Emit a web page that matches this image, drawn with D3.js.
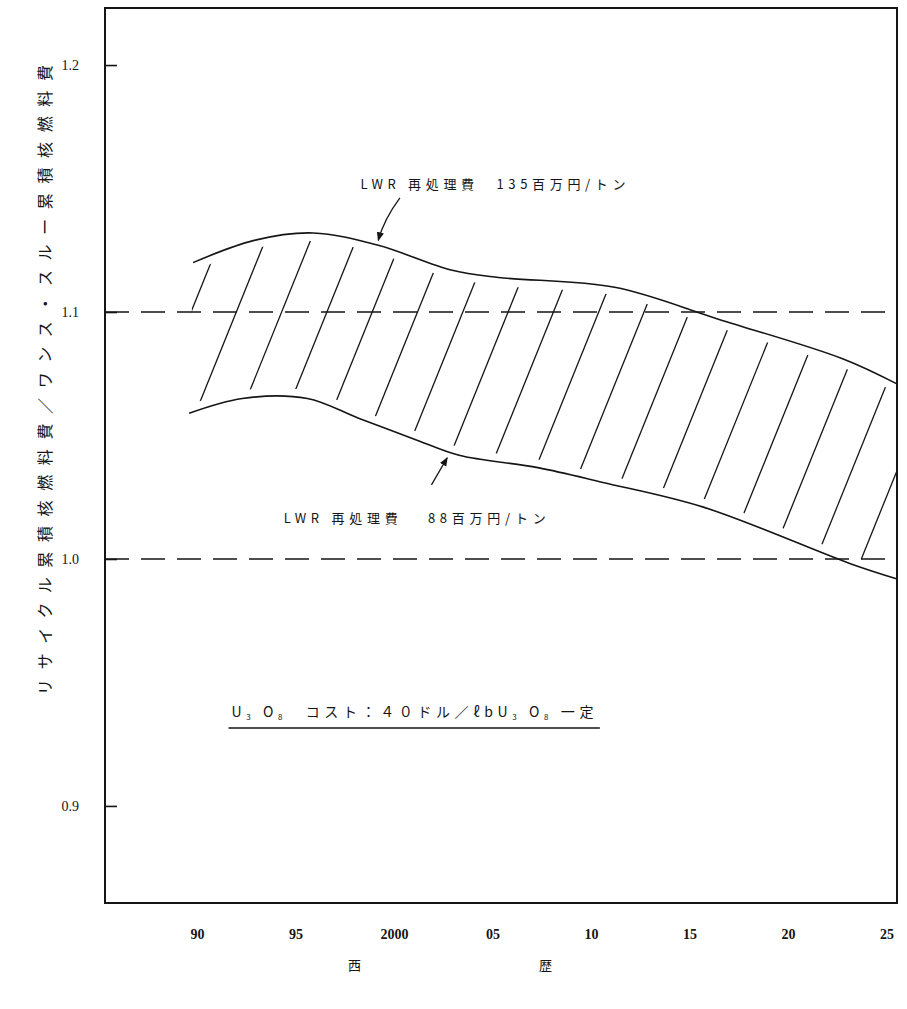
<!DOCTYPE html>
<html>
<head>
<meta charset="utf-8">
<script src="https://cdn.jsdelivr.net/npm/d3@7"></script>
<style>
body { margin: 0; background: #fff; }
text { fill: #151515; }
</style>
</head>
<body>
<svg id="chart" width="907" height="1009"></svg>
<script>
// values (ratio recycle / once-through)
const years135 = [1989.8, 1992.9, 1995.9, 1999.2, 2002.9, 2005.3, 2011.2, 2016.5, 2022.8, 2025.5];
const cost135  = [1.120, 1.129, 1.132, 1.127, 1.117, 1.114, 1.110, 1.097, 1.081, 1.071];
const years88  = [1989.6, 1992.3, 1995.6, 1998.2, 2001.2, 2003.3, 2007.3, 2010.6, 2015.7, 2023.2, 2025.5];
const cost88   = [1.059, 1.065, 1.065, 1.057, 1.048, 1.042, 1.037, 1.031, 1.021, 0.998, 0.992];
const refLevels = [1.1, 1.0];
const yTicks = [0.9, 1.0, 1.1, 1.2];
const xTicks = [1990, 1995, 2000, 2005, 2010, 2015, 2020, 2025];
const xTickLabels = ["90", "95", "2000", "05", "10", "15", "20", "25"];

const jp = "'Noto Sans CJK JP', sans-serif";
const svg = d3.select("#chart");
const mLeft = 105, mRight = 897, mTop = 8, mBottom = 903;

const x = d3.scaleLinear().domain([1985.33, 2025.53]).range([mLeft, mRight]);
const y = d3.scaleLinear().domain([0.8607, 1.2231]).range([mBottom, mTop]);

const upper = years135.map((d, i) => [d, cost135[i]]);
const lower = years88.map((d, i) => [d, cost88[i]]);

const line = d3.line()
    .x(d => x(d[0]))
    .y(d => y(d[1]))
    .curve(d3.curveCatmullRom.alpha(0.5));

// defs: plot clip, band clip
const defs = svg.append("defs");
defs.append("clipPath").attr("id", "plot")
  .append("rect")
    .attr("x", mLeft).attr("y", mTop)
    .attr("width", mRight - mLeft).attr("height", mBottom - mTop);

const bandPath = line(upper) + "L" + line(lower.slice().reverse()).slice(1) + "Z";
defs.append("clipPath").attr("id", "band")
  .append("path").attr("d", bandPath);

const plot = svg.append("g").attr("clip-path", "url(#plot)");

// hatching: parallel strokes 68 deg from horizontal, clipped to the band
const ang = 22 * Math.PI / 180, gap = 42;
const hatch = plot.append("g").attr("clip-path", "url(#band)");
hatch.selectAll("line")
  .data(d3.range(5, 27))
  .enter()
  .append("line")
    .attr("x1", k => k * gap * Math.cos(ang) + 900 * Math.sin(ang))
    .attr("y1", k => k * gap * Math.sin(ang) - 900 * Math.cos(ang))
    .attr("x2", k => k * gap * Math.cos(ang) - 900 * Math.sin(ang))
    .attr("y2", k => k * gap * Math.sin(ang) + 900 * Math.cos(ang))
    .attr("stroke", "#151515")
    .attr("stroke-width", 1.3);

// white halo keeps the hatching off the curves
plot.selectAll("path.halo")
  .data([upper, lower])
  .enter()
  .append("path")
    .attr("class", "halo")
    .attr("d", line)
    .attr("fill", "none")
    .attr("stroke", "#fff")
    .attr("stroke-width", 16);

// reference levels 1.1 and 1.0
plot.selectAll("line.ref")
  .data(refLevels)
  .enter()
  .append("line")
    .attr("class", "ref")
    .attr("x1", mLeft).attr("x2", mRight)
    .attr("y1", d => y(d)).attr("y2", d => y(d))
    .attr("stroke", "#151515")
    .attr("stroke-width", 1.5)
    .attr("stroke-dasharray", "24,12");

plot.selectAll("path.curve")
  .data([upper, lower])
  .enter()
  .append("path")
    .attr("class", "curve")
    .attr("d", line)
    .attr("fill", "none")
    .attr("stroke", "#151515")
    .attr("stroke-width", 1.6);

// frame
svg.append("rect")
    .attr("x", mLeft).attr("y", mTop)
    .attr("width", mRight - mLeft).attr("height", mBottom - mTop)
    .attr("fill", "none")
    .attr("stroke", "#151515")
    .attr("stroke-width", 2);

// axes
const yAxis = svg.append("g")
    .attr("transform", "translate(" + mLeft + ",0)")
    .call(d3.axisLeft(y).tickValues(yTicks).tickSize(-12).tickPadding(26)
        .tickFormat(d3.format(".1f")));
yAxis.select(".domain").remove();
yAxis.selectAll(".tick line").attr("stroke", "#151515").attr("stroke-width", 1.6);
yAxis.selectAll("text")
    .style("font-family", "'Liberation Serif', serif")
    .style("font-size", "14px");

const xAxis = svg.append("g")
    .attr("transform", "translate(0," + mBottom + ")")
    .call(d3.axisBottom(x).tickValues(xTicks).tickSize(0).tickPadding(26)
        .tickFormat((d, i) => xTickLabels[i]));
xAxis.select(".domain").remove();
xAxis.selectAll("text")
    .style("font-family", "'Liberation Serif', serif")
    .style("font-size", "14px")
    .style("font-weight", "bold");

// axis titles
svg.append("text")
    .attr("transform", "translate(44," + (mTop + 372) + ") rotate(-90)")
    .attr("text-anchor", "middle")
    .attr("dominant-baseline", "central")
    .attr("textLength", 630)
    .attr("lengthAdjust", "spacing")
    .style("font-family", jp)
    .style("font-size", "16px")
    .text("リサイクル累積核燃料費／ワンス・スルー累積核燃料費");

svg.append("text")
    .attr("x", 450).attr("y", 970)
    .attr("text-anchor", "middle")
    .attr("textLength", 204)
    .attr("lengthAdjust", "spacing")
    .style("font-family", jp)
    .style("font-size", "13px")
    .text("西歴");

// annotations
const head = defs.append("marker")
    .attr("id", "head")
    .attr("viewBox", "0 0 10 10")
    .attr("refX", 9).attr("refY", 5)
    .attr("markerWidth", 9).attr("markerHeight", 9)
    .attr("orient", "auto")
    .attr("markerUnits", "userSpaceOnUse");
head.append("path").attr("d", "M0,1L10,5L0,9Z").attr("fill", "#151515");

const notes = [
  {text: "LWR 再処理費　135百万円/トン", year: 1998.3, value: 1.1520, width: 265,
   from: [2000.3, 1.1462], to: [1999.2, 1.1290], bend: -5},
  {text: "LWR 再処理費　 88百万円/トン", year: 1994.4, value: 1.0166, width: 262,
   from: [2001.9, 1.0300], to: [2002.7, 1.0410], bend: 0}
];

svg.selectAll("text.note")
  .data(notes)
  .enter()
  .append("text")
    .attr("class", "note")
    .attr("x", d => x(d.year))
    .attr("y", d => y(d.value))
    .attr("dominant-baseline", "central")
    .attr("textLength", d => d.width)
    .attr("lengthAdjust", "spacing")
    .style("font-family", jp)
    .style("font-size", "13px")
    .text(d => d.text);

svg.selectAll("path.arrow")
  .data(notes)
  .enter()
  .append("path")
    .attr("class", "arrow")
    .attr("d", d => {
      const x0 = x(d.from[0]), y0 = y(d.from[1]);
      const x1 = x(d.to[0]), y1 = y(d.to[1]);
      return "M" + x0 + "," + y0 + "Q" + ((x0 + x1) / 2 + d.bend) + "," + ((y0 + y1) / 2) + " " + x1 + "," + y1;
    })
    .attr("fill", "none")
    .attr("stroke", "#151515")
    .attr("stroke-width", 1.3)
    .attr("marker-end", "url(#head)");

// U3O8 price condition, underlined
const cond = svg.append("text")
    .attr("x", x(1991.75)).attr("y", y(0.9385))
    .attr("dominant-baseline", "central")
    .attr("textLength", 362)
    .attr("lengthAdjust", "spacing")
    .style("font-family", jp)
    .style("font-size", "14px");
const condParts = [
  ["U", 0], ["3", 1], [" O", 0], ["8", 1], ["　コスト：４０ドル／ℓbU", 0], ["3", 1], [" O", 0], ["8", 1], [" 一定", 0]
];
condParts.forEach(p => {
  cond.append("tspan")
      .attr("baseline-shift", p[1] ? "sub" : null)
      .style("font-size", p[1] ? "8px" : null)
      .text(p[0]);
});
svg.append("line")
    .attr("x1", x(1991.6)).attr("x2", x(2010.45))
    .attr("y1", y(0.9316)).attr("y2", y(0.9316))
    .attr("stroke", "#151515")
    .attr("stroke-width", 1.5);
</script>
</body>
</html>
